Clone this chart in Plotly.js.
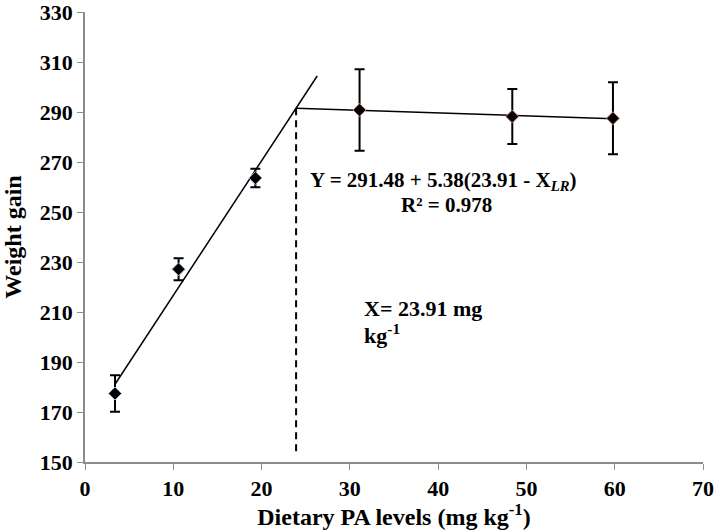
<!DOCTYPE html>
<html>
<head>
<meta charset="utf-8">
<script src="https://cdn.plot.ly/plotly-3.0.1.min.js"></script>
<style>
  body { margin: 0; background: #fff; }
  #plot { width: 716px; height: 530px; }
</style>
</head>
<body>
<div id="plot"></div>
<script>
// dietary PA levels and mean weight gain
var levelsLow = [3.4, 10.6, 19.3];
var gainLow = [177.4, 227.1, 263.6];
var errLow = [7.3, 4.4, 3.7];

var levelsHigh = [31.1, 48.4, 59.8];
var gainHigh = [290.8, 288.2, 287.5];
var errHigh = [16.3, 11, 14.4];

// broken-line fit segments
var riseX = [3.4, 26.3];
var riseY = [181.1, 304.4];
var plateauX = [23.91, 59.8];
var plateauY = [291.48, 287.3];
var breakX = [23.91, 23.91];
var breakY = [291.48, 154];

// axis ticks
var xTicks = [0, 10, 20, 30, 40, 50, 60, 70];
var yTicks = [150, 170, 190, 210, 230, 250, 270, 290, 310, 330];

var serif = "Liberation Serif";

function boldLabels(vals) {
  return vals.map(function(v) { return "<b>" + v + "</b>"; });
}

var rise = {
  x: riseX, y: riseY, mode: "lines", type: "scatter",
  line: {color: "#000", width: 1.5}, hoverinfo: "skip"
};
var plateau = {
  x: plateauX, y: plateauY, mode: "lines", type: "scatter",
  line: {color: "#000", width: 1.5}, hoverinfo: "skip"
};
var breakLine = {
  x: breakX, y: breakY, mode: "lines", type: "scatter",
  line: {color: "#000", width: 2, dash: "7px,5px"}, hoverinfo: "skip"
};

var low = {
  x: levelsLow, y: gainLow, mode: "markers", type: "scatter",
  error_y: {type: "data", array: errLow, visible: true, color: "#000", thickness: 2, width: 5},
  marker: {symbol: "diamond", size: 10, color: "#000", line: {color: "#8fb0d8", width: 1}}
};
var high = {
  x: levelsHigh, y: gainHigh, mode: "markers", type: "scatter",
  error_y: {type: "data", array: errHigh, visible: true, color: "#000", thickness: 2, width: 5},
  marker: {symbol: "diamond", size: 10, color: "#000", line: {color: "#d98080", width: 1}}
};

var layout = {
  width: 716,
  height: 530,
  margin: {l: 85, r: 13, t: 12, b: 68},
  paper_bgcolor: "#fff",
  plot_bgcolor: "#fff",
  showlegend: false,
  font: {family: serif, color: "#000", size: 20},
  xaxis: {
    range: [0, 70],
    tickmode: "array",
    tickvals: xTicks,
    ticktext: boldLabels(xTicks),
    showgrid: false,
    zeroline: false,
    showline: true,
    linecolor: "#8c8c8c",
    linewidth: 1.5,
    ticks: "outside",
    ticklen: 6,
    tickcolor: "#8c8c8c",
    tickfont: {family: serif, size: 22},
    title: {
      text: "<b>Dietary PA levels (mg kg<sup>-1</sup>)</b>",
      font: {family: serif, size: 24},
      standoff: 4
    }
  },
  yaxis: {
    range: [150, 330],
    tickmode: "array",
    tickvals: yTicks,
    ticktext: boldLabels(yTicks),
    showgrid: false,
    zeroline: false,
    showline: true,
    linecolor: "#8c8c8c",
    linewidth: 1.5,
    ticks: "outside",
    ticklen: 6,
    tickcolor: "#8c8c8c",
    ticklabeloverflow: "allow",
    tickfont: {family: serif, size: 22},
    title: {
      text: "<b>Weight gain</b>",
      font: {family: serif, size: 24},
      standoff: 12
    }
  },
  annotations: [
    {
      x: 40.6, y: 262.5, xref: "x", yref: "y", showarrow: false,
      text: "<b>Y = 291.48 + 5.38(23.91 - X<sub><i>LR</i></sub>)</b>",
      font: {family: serif, size: 21}
    },
    {
      x: 41.0, y: 253, xref: "x", yref: "y", showarrow: false,
      text: "<b>R² = 0.978</b>",
      font: {family: serif, size: 21}
    },
    {
      x: 31.4, y: 211.3, xref: "x", yref: "y", showarrow: false, xanchor: "left",
      text: "<b>X= 23.91 mg</b>",
      font: {family: serif, size: 22}
    },
    {
      x: 31.4, y: 201.4, xref: "x", yref: "y", showarrow: false, xanchor: "left",
      text: "<b>kg<sup>-1</sup></b>",
      font: {family: serif, size: 22}
    }
  ]
};

Plotly.newPlot("plot", [rise, plateau, breakLine, low, high], layout, {displayModeBar: false});
</script>
</body>
</html>
